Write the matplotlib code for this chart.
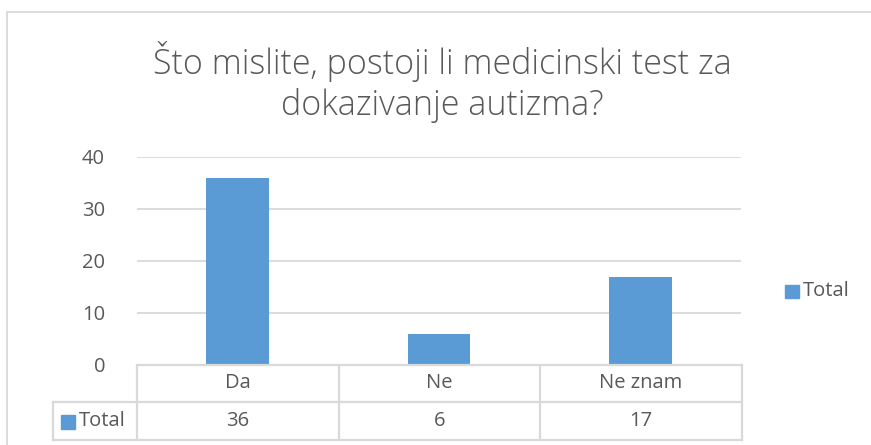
import matplotlib
matplotlib.use("Agg")
import matplotlib.pyplot as plt
from matplotlib.lines import Line2D
from matplotlib.patches import Rectangle

categories = ["Da", "Ne", "Ne znam"]
values = [36, 6, 17]
series_name = "Total"
title = "Što mislite, postoji li medicinski test za\ndokazivanje autizma?"
yticks = [0, 10, 20, 30, 40]

BAR = "#5b9bd5"
TXT = "#595959"
GRID = "#d9d9d9"
FONT = "Open Sans"

W, H = 871, 445
fig = plt.figure(figsize=(W / 100, H / 100), dpi=100)
plt.rcParams["font.family"] = [FONT, "DejaVu Sans"]


def fx(px):
    return px / W


def fy(py):
    return 1 - py / H


# plot area in pixel coordinates
L, R, T, B = 137, 741, 157, 365
ax = fig.add_axes([fx(L), fy(B), fx(R) - fx(L), fy(T) - fy(B)])
x = list(range(len(categories)))
ax.bar(x, values, width=0.31, color=BAR, zorder=3)
ax.set_xlim(-0.5, len(categories) - 0.5)
ax.set_ylim(0, 40)
ax.set_yticks(yticks)
ax.set_yticklabels([str(v) for v in yticks], fontsize=14.5, color=TXT)
ax.tick_params(axis="y", length=0, pad=23)
ax.set_xticks([])
ax.grid(axis="y", color=GRID, linewidth=1.3, zorder=0)
for s in ax.spines.values():
    s.set_visible(False)

# chart border (top + left)
fig.add_artist(Line2D([fx(7), 1], [fy(12), fy(12)], color=GRID, lw=1.3))
fig.add_artist(Line2D([fx(7), fx(7)], [fy(12), 0], color=GRID, lw=1.3))

# title
fig.text(fx(442), fy(82), title, ha="center", va="center", fontsize=24.5,
         color=TXT, fontweight="light", linespacing=1.25)

# data table
cols = [137, 339, 540, 742]
r0, r1, r2 = 365, 402, 440
lw = 1.6
def hline(y, x0, x1):
    fig.add_artist(Line2D([fx(x0), fx(x1)], [fy(y), fy(y)], color=GRID, lw=lw))
def vline(x0, y0, y1):
    fig.add_artist(Line2D([fx(x0), fx(x0)], [fy(y0), fy(y1)], color=GRID, lw=lw))

hline(r0, cols[0], cols[-1])
hline(r1, 53, cols[-1])
hline(r2, 53, cols[-1])
for c in cols:
    vline(c, r0, r2)
vline(53, r1, r2)

for i, (cat, v) in enumerate(zip(categories, values)):
    cx = (cols[i] + cols[i + 1]) / 2
    fig.text(fx(cx), fy((r0 + r1) / 2), cat, ha="center", va="center",
             fontsize=14.5, color=TXT)
    fig.text(fx(cx), fy((r1 + r2) / 2), str(v), ha="center", va="center",
             fontsize=14.5, color=TXT)

fig.add_artist(Rectangle((fx(61), fy(429)), fx(14), fy(415) - fy(429),
                         color=BAR, transform=fig.transFigure))
fig.text(fx(79), fy(421), series_name, ha="left", va="center",
         fontsize=14.5, color=TXT)

# legend
fig.add_artist(Rectangle((fx(785), fy(298)), fx(14), fy(285) - fy(298),
                         color=BAR, transform=fig.transFigure))
fig.text(fx(803), fy(291), series_name, ha="left", va="center",
         fontsize=14.5, color=TXT)

fig.savefig("out.png", dpi=100)
